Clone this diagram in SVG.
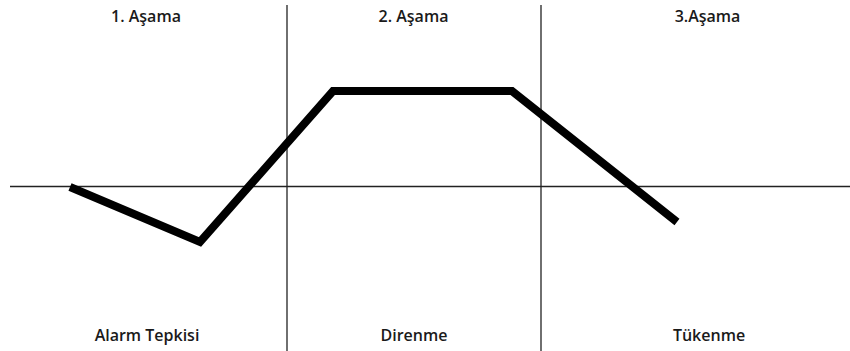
<svg xmlns="http://www.w3.org/2000/svg" width="850" height="351" viewBox="0 0 850 351">
<style>
.lbl{font-family:"Open Sans","Liberation Sans",sans-serif;font-size:16px;font-weight:600;fill:#1a1a1a;text-anchor:middle}
.axis{stroke:#222;stroke-width:1.3;fill:none}
.curve{stroke:#000;stroke-width:8;fill:none;stroke-linejoin:miter;stroke-linecap:butt}
</style>
<rect width="850" height="351" fill="#fff"/>
<g id="axes">
<line class="axis" x1="10" y1="186.5" x2="850" y2="186.5"/>
<line class="axis" x1="287" y1="5" x2="287" y2="351"/>
<line class="axis" x1="541" y1="5" x2="541" y2="351"/>
</g>
<g id="curve">
<polyline class="curve" points="70,187 200,242 333,91 512,91 677,222"/>
</g>
<g id="labels">
<text class="lbl" x="146" y="22">1. Aşama</text>
<text class="lbl" x="413.5" y="22">2. Aşama</text>
<text class="lbl" x="707.5" y="22">3.Aşama</text>
<text class="lbl" x="147" y="341">Alarm Tepkisi</text>
<text class="lbl" x="414" y="341">Direnme</text>
<text class="lbl" x="709" y="341">Tükenme</text>
</g>
</svg>
